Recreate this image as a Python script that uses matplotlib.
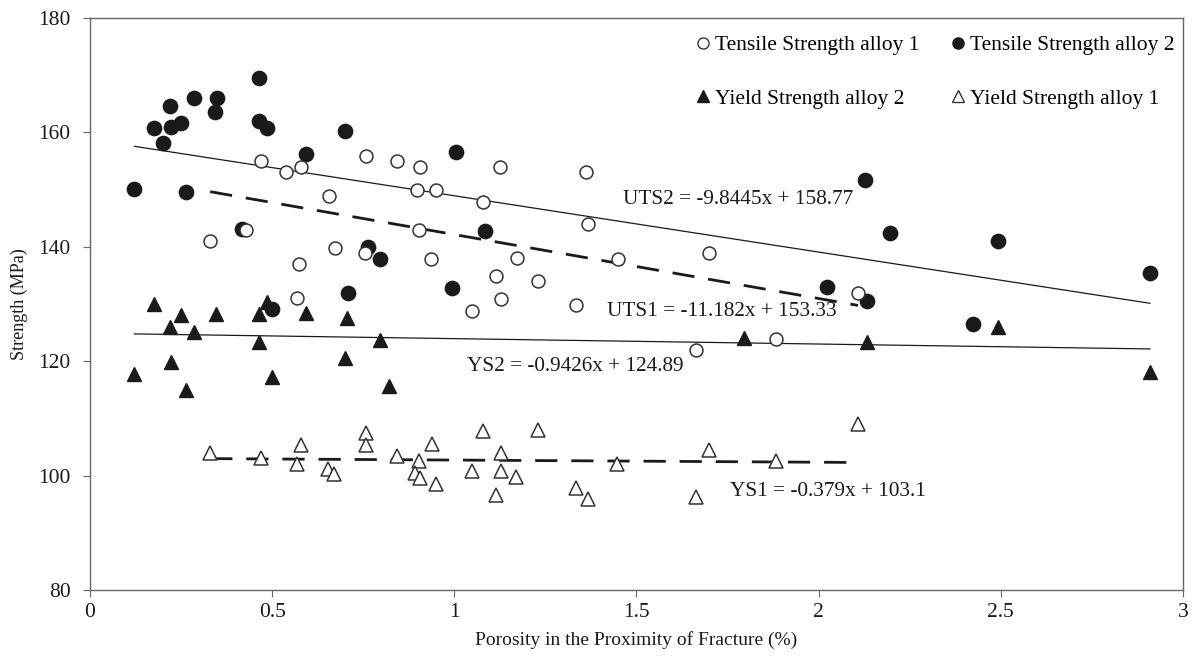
import numpy as np
import matplotlib
matplotlib.use("Agg")
import matplotlib.pyplot as plt
from matplotlib.lines import Line2D

plt.rcParams["font.family"] = ["Liberation Serif", "DejaVu Serif"]

# Tensile strength, alloy 1 (open circles)
ts1_x = [0.33, 0.427, 0.469, 0.538, 0.568, 0.575, 0.58, 0.655, 0.672, 0.755, 0.757,
         0.842, 0.897, 0.904, 0.907, 0.937, 0.951, 1.049, 1.078, 1.115, 1.126, 1.129,
         1.172, 1.229, 1.335, 1.361, 1.366, 1.448, 1.664, 1.699, 1.884, 2.108]
ts1_y = [141.1, 142.9, 155.0, 153.0, 131.0, 137.0, 154.0, 148.9, 139.8, 139.0, 155.9,
         155.0, 149.9, 142.9, 154.0, 137.9, 149.9, 128.8, 147.9, 134.9, 154.0, 130.8,
         138.0, 134.0, 129.9, 153.0, 144.0, 137.9, 121.9, 138.9, 123.8, 132.0]

# Tensile strength, alloy 2 (filled circles)
ts2_x = [0.122, 0.176, 0.20, 0.22, 0.222, 0.25, 0.263, 0.285, 0.348, 0.344, 0.417,
         0.463, 0.463, 0.486, 0.499, 0.593, 0.70, 0.707, 0.763, 0.796, 0.994, 1.005,
         1.085, 2.022, 2.126, 2.134, 2.196, 2.424, 2.493, 2.909]
ts2_y = [150.1, 160.8, 158.1, 164.6, 161.0, 161.6, 149.6, 166.0, 166.0, 163.5, 143.2,
         169.5, 162.0, 160.7, 129.2, 156.3, 160.3, 131.9, 139.9, 137.8, 132.8, 156.6,
         142.8, 132.9, 151.6, 130.6, 142.4, 126.5, 141.1, 135.5]

# Yield strength, alloy 2 (filled triangles)
ys2_x = [0.122, 0.176, 0.22, 0.25, 0.223, 0.264, 0.286, 0.346, 0.463, 0.485, 0.463,
         0.499, 0.592, 0.706, 0.70, 0.797, 0.82, 1.795, 2.134, 2.493, 2.909]
ys2_y = [117.8, 130.0, 125.9, 128.1, 119.9, 114.9, 125.1, 128.3, 128.3, 130.4, 123.3,
         117.3, 128.5, 127.6, 120.6, 123.7, 115.7, 124.0, 123.3, 125.9, 118.1]

# Yield strength, alloy 1 (open triangles)
ys1_x = [0.33, 0.469, 0.58, 0.568, 0.652, 0.671, 0.757, 0.758, 0.842, 0.903, 0.939,
         0.893, 0.907, 0.951, 1.078, 1.049, 1.129, 1.128, 1.115, 1.23, 1.17, 1.335,
         1.366, 1.447, 1.70, 1.664, 1.883, 2.108]
ys1_y = [104.0, 103.0, 105.3, 102.1, 101.2, 100.3, 107.4, 105.3, 103.5, 102.6, 105.6,
         100.5, 99.5, 98.5, 107.8, 100.8, 103.9, 100.8, 96.7, 107.9, 99.7, 97.8,
         96.0, 102.1, 104.5, 96.2, 102.6, 109.0]

# linear fits as printed on the chart: (slope, intercept, label)
fit_uts2 = (-9.8445, 158.77, "UTS2 = -9.8445x + 158.77")
fit_uts1 = (-11.182, 153.33, "UTS1 = -11.182x + 153.33")
fit_ys2 = (-0.9426, 124.89, "YS2 = -0.9426x + 124.89")
fit_ys1 = (-0.379, 103.1, "YS1 = -0.379x + 103.1")

fig = plt.figure(figsize=(11.93, 6.67), dpi=100)
ax = fig.add_axes([0.0754, 0.1154, 0.9162, 0.8576])

ink = "#1a1a1a"
ms = 10.3

ax.plot(ts2_x, ts2_y, "o", ms=ms, mfc=ink, mec=ink, ls="none", zorder=3)
ax.plot(ts1_x, ts1_y, "o", ms=ms - 1, mfc="white", mec="#333333", mew=1.1, ls="none", zorder=4)
ax.plot(ys2_x, ys2_y, "^", ms=ms, mfc=ink, mec=ink, ls="none", zorder=3)
ax.plot(ys1_x, ys1_y, "^", ms=ms - 0.5, mfc="white", mec="#333333", mew=1.1, ls="none", zorder=4)


def trend(xs, fit, **kw):
    m, b, _ = fit
    xx = np.array([min(xs), max(xs)])
    ax.plot(xx, m * xx + b, color=ink, zorder=2, **kw)


trend(ts2_x, fit_uts2, lw=0.9)
trend(ys2_x, fit_ys2, lw=0.9)
trend(ts1_x, fit_uts1, lw=2.0, dashes=(8, 5))
trend(ys1_x, fit_ys1, lw=2.0, dashes=(8, 5))

tfs = 15.3
ax.text(1.463, 148.2, fit_uts2[2], fontsize=tfs, va="center", color=ink)
ax.text(1.418, 128.7, fit_uts1[2], fontsize=tfs, va="center", color=ink)
ax.text(1.035, 119.0, fit_ys2[2], fontsize=tfs, va="center", color=ink)
ax.text(1.758, 97.3, fit_ys1[2], fontsize=tfs, va="center", color=ink)

ax.set_xlim(0, 3)
ax.set_ylim(80, 180)
ax.set_xticks([0, 0.5, 1, 1.5, 2, 2.5, 3])
ax.set_xticklabels(["0", "0.5", "1", "1.5", "2", "2.5", "3"])
ax.set_yticks([80, 100, 120, 140, 160, 180])
ax.tick_params(labelsize=15.5, direction="out", length=5, color="#666666", labelcolor=ink)
ax.tick_params(axis="y", pad=9)
ax.tick_params(axis="x", pad=4)
for s in ax.spines.values():
    s.set_color("#666666")
    s.set_linewidth(1.0)

ax.set_xlabel("Porosity in the Proximity of Fracture (%)", fontsize=14, color=ink, labelpad=7)
ax.set_ylabel("Strength (MPa)", fontsize=13, color=ink, labelpad=7)

lms = 8
handles = [
    Line2D([], [], marker="o", ls="none", ms=lms, mfc="white", mec="#333333", mew=1.0),
    Line2D([], [], marker="^", ls="none", ms=lms, mfc=ink, mec=ink),
    Line2D([], [], marker="o", ls="none", ms=lms, mfc=ink, mec=ink),
    Line2D([], [], marker="^", ls="none", ms=lms, mfc="white", mec="#333333", mew=1.0),
]
labels = ["Tensile Strength alloy 1", "Yield Strength alloy 2",
          "Tensile Strength alloy 2", "Yield Strength alloy 1"]
ax.legend(handles, labels, ncol=2, loc="upper right", frameon=False, fontsize=15.5,
          handletextpad=0.05, handlelength=1.0, columnspacing=1.3, labelspacing=1.55,
          borderaxespad=0.0, bbox_to_anchor=(1.0, 0.985))

fig.savefig("out.png", dpi=100)
